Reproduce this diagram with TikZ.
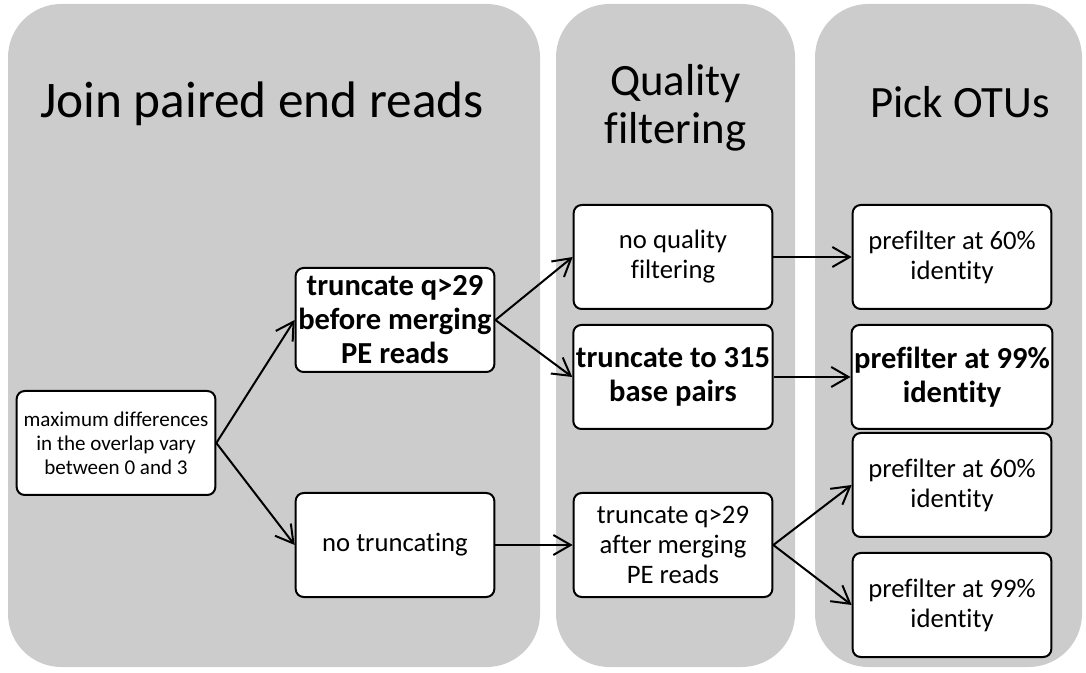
\documentclass[tikz,border=0pt]{standalone}
\usepackage{fontspec}
\setmainfont{Carlito}[Ligatures=CommonOff]
\usetikzlibrary{arrows.meta}

\definecolor{panelgray}{HTML}{CCCCCC}

\tikzset{
	panel/.style={fill=panelgray, rounded corners=40pt},
	title/.style={font=\fontsize{33.6}{36}\selectfont, align=center, inner sep=0pt},
	stepbox/.style={draw, line width=1.5pt, fill=white, rounded corners=6pt, minimum width=149pt, minimum height=78pt, align=center, inner sep=2pt, font=\fontsize{20}{22.5}\selectfont},
	boldbox/.style={stepbox, font=\fontsize{22.9}{25.5}\selectfont\bfseries},
	smallbox/.style={stepbox, font=\fontsize{15.8}{18}\selectfont},
	flow/.style={line width=1.5pt, -{Straight Barb[length=13pt, width=15pt, line width=1.5pt]}}
}

\begin{document}
\begin{tikzpicture}[x=0.75pt, y=-0.75pt]
				% Background panels:
				\useasboundingbox (0, 0) rectangle (1086, 673);
				\fill[panel] (8, 4) rectangle (540, 667);
				\fill[panel] (556, 4) rectangle (795, 667);
				\fill[panel] (815, 4) rectangle (1082, 667);
				% Titles:
				\node[title, font=\fontsize{38.5}{40}\selectfont, anchor=base] (jointitle) at (262, 118) {Join paired end reads};
				\node[title] (qualtitle) at (675.5, 108) {Quality\\filtering};
				\node[title, anchor=base] (otutitle) at (960, 118) {Pick OTUs};
				% Boxes:
				\node[smallbox] (start) at (116, 443) {maximum differences\\in the overlap vary\\between 0 and 3};
				\node[boldbox] (before) at (395, 320) {truncate q>29\\before merging\\PE reads};
				\node[stepbox] (notrunc) at (395, 545) {no truncating};
				\node[stepbox] (noqual) at (673, 257) {no quality\\filtering};
				\node[boldbox] (trunc315) at (673, 377) {truncate to 315\\base pairs};
				\node[stepbox] (after) at (673, 545) {truncate q>29\\after merging\\PE reads};
				\node[stepbox] (pfa) at (952, 257) {prefilter at 60\%\\identity};
				\node[boldbox] (pfb) at (952, 377) {prefilter at 99\%\\identity};
				\node[stepbox] (pfc) at (952, 485) {prefilter at 60\%\\identity};
				\node[stepbox] (pfd) at (952, 605) {prefilter at 99\%\\identity};
				% Arrows:
				\draw[flow] (start.east) -- (before.west);
				\draw[flow] (start.east) -- (notrunc.west);
				\draw[flow] (before.east) -- (noqual.west);
				\draw[flow] (before.east) -- (trunc315.west);
				\draw[flow] (notrunc.east) -- (after.west);
				\draw[flow] (noqual.east) -- (pfa.west);
				\draw[flow] (trunc315.east) -- (pfb.west);
				\draw[flow] (after.east) -- (pfc.west);
				\draw[flow] (after.east) -- (pfd.west);
			\end{tikzpicture}
\end{document}
